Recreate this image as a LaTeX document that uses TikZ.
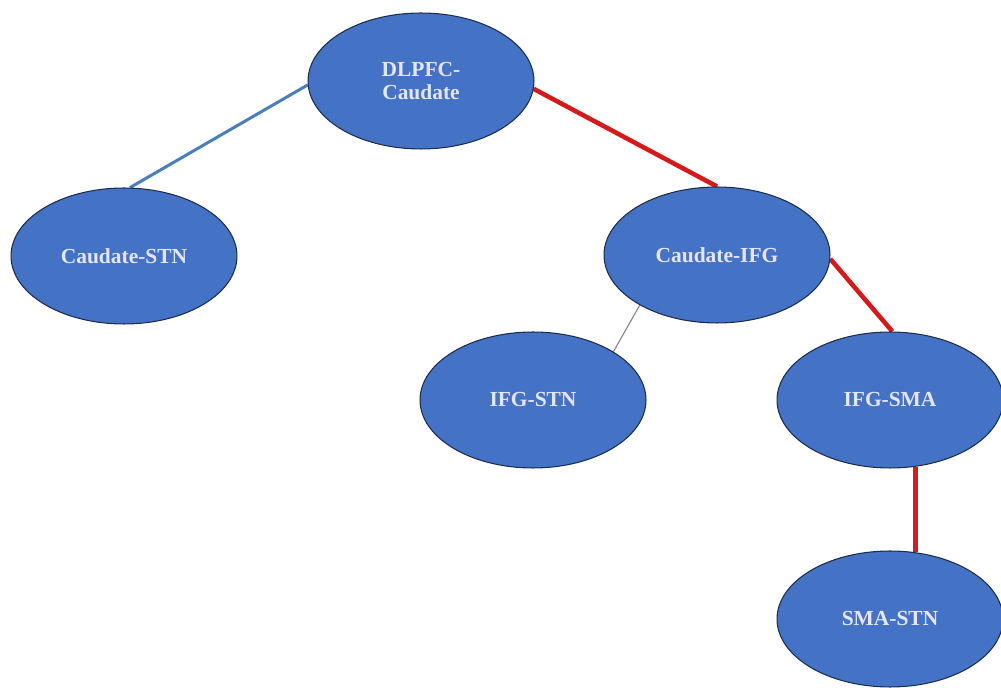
\documentclass[tikz,border=0pt]{standalone}
\usepackage{fontspec}
\setmainfont{Liberation Serif}
\usetikzlibrary{positioning, shapes.geometric, backgrounds}
\definecolor{nodeblue}{HTML}{4472C4}
\definecolor{nodeedge}{HTML}{1C2C4C}
\definecolor{linkblue}{HTML}{4A7EBB}
\definecolor{linkred}{HTML}{D41A1A}
\tikzset{pathtree/.style={
    region/.style={ellipse, draw=nodeedge, semithick, fill=nodeblue, minimum width=4.52cm, minimum height=2.72cm, inner sep=0pt, align=center, text=white!90!blue, font=\fontsize{12.2}{13.2}\selectfont\bfseries},
    weak/.style={line width=1.7pt, linkblue},
    strong/.style={line width=2.6pt, linkred},
    faint/.style={line width=0.6pt, gray},
}}

\begin{document}
\begin{tikzpicture}[pathtree, x=0.02cm, y=-0.02cm]
    \useasboundingbox (0,0) rectangle (1001,688);
    \node[region] (dlpfc) at (421,81) {DLPFC-\\Caudate};
    \node[region] (cstn) at (124,256) {Caudate-STN};
    \node[region] (cifg) at (717,255) {Caudate-IFG};
    \node[region] (istn) at (533,400) {IFG-STN};
    \node[region] (isma) at (890,400) {IFG-SMA};
    \node[region] (sstn) at (890,619) {SMA-STN};
    \begin{scope}[on background layer]
        \draw[weak] (dlpfc.182) -- (cstn.85);
        \draw[strong] (dlpfc.356) -- (cifg.90);
        \draw[faint] (cifg.213) -- (istn.31);
        \draw[strong] (cifg.358) -- (isma.88);
        \draw[strong] (isma.291) -- (sstn.69);
    \end{scope}
\end{tikzpicture}
\end{document}
